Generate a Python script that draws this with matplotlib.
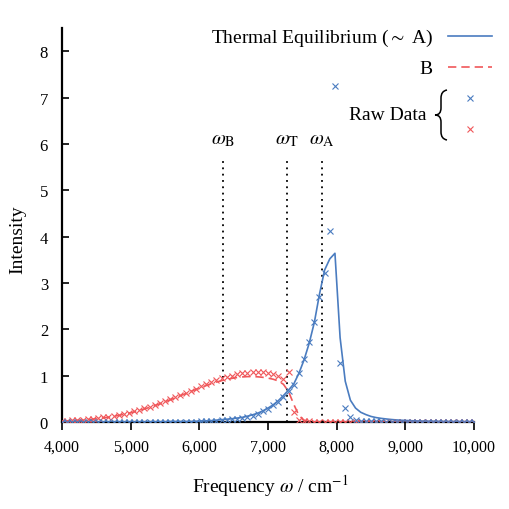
import matplotlib
matplotlib.use("Agg")
import matplotlib.pyplot as plt
from matplotlib.lines import Line2D
from matplotlib.path import Path
from matplotlib.patches import PathPatch
from matplotlib.ticker import StrMethodFormatter

plt.rcParams["font.family"] = ["Liberation Serif", "DejaVu Serif"]
plt.rcParams["mathtext.fontset"] = "stix"

BLUE = "#4a7cc0"
RED = "#f0575a"

# frequency grid (cm^-1)
freq = [4000, 4075, 4150, 4225, 4300, 4375, 4450, 4525, 4600, 4675,
        4750, 4825, 4900, 4975, 5050, 5125, 5200, 5275, 5350, 5425,
        5500, 5575, 5650, 5725, 5800, 5875, 5950, 6025, 6100, 6175,
        6250, 6325, 6400, 6475, 6550, 6625, 6700, 6775, 6850, 6925,
        7000, 7075, 7150, 7225, 7300, 7375, 7450, 7525, 7600, 7675,
        7750, 7825, 7900, 7975, 8050, 8125, 8200, 8275, 8350, 8425,
        8500, 8575, 8650, 8725, 8800, 8875, 8950, 9025, 9100, 9175,
        9250, 9325, 9400, 9475, 9550, 9625, 9700, 9775, 9850, 9925,
        10000]

# thermal equilibrium (~A) fit
fit_a = [0.0, 0.0, 0.0, 0.0, 0.0, 0.0, 0.0, 0.0, 0.0, 0.0,
         0.0, 0.0, 0.0, 0.0, 0.0, 0.0, 0.0, 0.005, 0.005, 0.005,
         0.005, 0.01, 0.01, 0.01, 0.01, 0.01, 0.015, 0.02, 0.025, 0.03,
         0.04, 0.05, 0.06, 0.07, 0.085, 0.10, 0.125, 0.155, 0.19, 0.24,
         0.30, 0.37, 0.46, 0.57, 0.69, 0.82, 1.05, 1.34, 1.70, 2.15,
         2.76, 3.28, 3.52, 3.64, 1.82, 0.88, 0.47, 0.30, 0.21, 0.16,
         0.12, 0.095, 0.078, 0.065, 0.053, 0.044, 0.037, 0.032, 0.027, 0.023,
         0.02, 0.018, 0.016, 0.014, 0.012, 0.011, 0.01, 0.009, 0.008, 0.007,
         0.007]

# B fit
fit_b = [0.019, 0.024, 0.029, 0.035, 0.043, 0.052, 0.062, 0.074, 0.088, 0.104,
         0.122, 0.142, 0.165, 0.19, 0.218, 0.248, 0.281, 0.316, 0.353, 0.393,
         0.434, 0.478, 0.522, 0.567, 0.613, 0.658, 0.702, 0.745, 0.786, 0.825,
         0.861, 0.892, 0.919, 0.942, 0.960, 0.972, 0.979, 0.98, 0.975, 0.964,
         0.947, 0.923, 0.886, 0.813, 0.654, 0.381, 0.143, 0.040, 0.010, 0.003,
         0.0, 0.0, 0.0, 0.0, 0.0, 0.0, 0.0, 0.0, 0.0, 0.0,
         0.0, 0.0, 0.0, 0.0, 0.0, 0.0, 0.0, 0.0, 0.0, 0.0,
         0.0, 0.0, 0.0, 0.0, 0.0, 0.0, 0.0, 0.0, 0.0, 0.0,
         0.0]

# raw data
raw_a = [0.0, 0.0, 0.0, 0.0, 0.0, 0.0, 0.0, 0.0, 0.0, 0.0,
         0.0, 0.0, 0.0, 0.0, 0.0, 0.0, 0.0, 0.0, 0.0, 0.005,
         0.005, 0.005, 0.01, 0.01, 0.01, 0.01, 0.01, 0.015, 0.02, 0.025,
         0.03, 0.04, 0.05, 0.06, 0.075, 0.09, 0.115, 0.14, 0.18, 0.23,
         0.29, 0.36, 0.44, 0.55, 0.66, 0.80, 1.06, 1.36, 1.72, 2.16,
         2.70, 3.22, 4.13, 7.25, 1.27, 0.30, 0.11, 0.05, 0.03, 0.02,
         0.02, 0.015, 0.015, 0.01, 0.01, 0.01, 0.01, 0.01, 0.01, 0.01,
         0.01, 0.01, 0.01, 0.01, 0.01, 0.01, 0.01, 0.01, 0.01, 0.01,
         0.01]

raw_b = [0.03, 0.03, 0.04, 0.04, 0.05, 0.06, 0.07, 0.08, 0.10, 0.11,
         0.13, 0.15, 0.18, 0.20, 0.23, 0.26, 0.30, 0.33, 0.37, 0.41,
         0.45, 0.49, 0.53, 0.58, 0.62, 0.67, 0.72, 0.77, 0.82, 0.86,
         0.90, 0.94, 0.97, 1.00, 1.03, 1.05, 1.06, 1.07, 1.08, 1.07,
         1.06, 1.03, 1.00, 0.93, 1.08, 0.22, 0.05, 0.02, 0.015, 0.01,
         0.01, 0.01, 0.01, 0.01, 0.01, 0.01, 0.01, 0.01, 0.01, 0.01,
         0.01, 0.01, 0.01, 0.01, 0.01, 0.01, 0.01, 0.01, 0.01, 0.01,
         0.01, 0.01, 0.01, 0.01, 0.01, 0.01, 0.01, 0.01, 0.01, 0.01,
         0.01]

# characteristic frequencies
omega_names = [r"$\omega_{\rm B}$", r"$\omega_{\rm T}$", r"$\omega_{\rm A}$"]
omega_vals = [6350, 7280, 7790]
omega_top = 5.7

fig = plt.figure(figsize=(5.1, 5.1), dpi=100)
ax = fig.add_axes([62 / 510, 87 / 510, 412 / 510, 394 / 510])

ax.plot(freq, fit_b, color=RED, lw=1.2, ls=(0, (5, 3)), zorder=3)
ax.plot(freq, fit_a, color=BLUE, lw=1.2, zorder=3)
ax.plot(freq, raw_b, ls="none", marker="x", ms=5, mew=0.8, color=RED, zorder=4)
ax.plot(freq, raw_a, ls="none", marker="x", ms=5, mew=0.8, color=BLUE, zorder=4)

for name, w in zip(omega_names, omega_vals):
    ax.vlines(w, 0, omega_top, colors="black", linestyles=(0, (1, 2.5)), lw=1.3)
    ax.text(w, omega_top + 0.42, name, ha="center", va="center", fontsize=14.5)

ax.set_xlim(4000, 10000)
ax.set_ylim(0, 8.5)
ax.set_xticks([4000, 5000, 6000, 7000, 8000, 9000, 10000])
ax.set_yticks(range(0, 9))
ax.xaxis.set_major_formatter(StrMethodFormatter("{x:,.0f}"))
ax.tick_params(axis="x", direction="out", length=6, width=1.2, labelsize=11.5, pad=6)
ax.tick_params(axis="y", direction="in", length=5, width=1.2, labelsize=12, pad=10)
for s in ["top", "right"]:
    ax.spines[s].set_visible(False)
for s in ["left", "bottom"]:
    ax.spines[s].set_linewidth(1.6)

ax.set_ylabel("Intensity", fontsize=14)
ax.yaxis.set_label_coords(-0.087, 0.464)
ax.set_xlabel(r"Frequency $\omega$ / cm$^{-1}$", fontsize=14)
ax.xaxis.set_label_coords(0.505, -0.128)

# legend drawn by hand (text to the left of the handles)
def fx(px):
    return px / 510

def fy(py):
    return 1 - py / 510

fig.text(fx(433), fy(38), r"Thermal Equilibrium (${\sim}$ A)", ha="right", va="center", fontsize=14)
fig.add_artist(Line2D([fx(448), fx(492)], [fy(37), fy(37)], color=BLUE, lw=1.2))
fig.text(fx(433), fy(69), "B", ha="right", va="center", fontsize=14)
fig.add_artist(Line2D([fx(448), fx(492)], [fy(68), fy(68)], color=RED, lw=1.2, ls=(0, (5, 3))))
fig.text(fx(427), fy(115), "Raw Data", ha="right", va="center", fontsize=14)

# thin curly brace grouping the two raw-data markers
brace_pts = [(447, 91), (441, 92), (441, 99), (441, 109), (441, 116), (435, 116),
             (441, 116), (441, 123), (441, 133), (441, 140), (447, 141)]
brace_codes = [Path.MOVETO, Path.CURVE3, Path.CURVE3, Path.LINETO, Path.CURVE3, Path.CURVE3,
               Path.CURVE3, Path.CURVE3, Path.LINETO, Path.CURVE3, Path.CURVE3]
brace = Path([(fx(px), fy(py)) for px, py in brace_pts], brace_codes)
fig.add_artist(PathPatch(brace, fill=False, lw=1.1, color="black", transform=fig.transFigure))

fig.add_artist(Line2D([fx(470)], [fy(99)], ls="none", marker="x", ms=5, mew=0.8, color=BLUE))
fig.add_artist(Line2D([fx(470)], [fy(130)], ls="none", marker="x", ms=5, mew=0.8, color=RED))

fig.savefig("out.png", dpi=100)
